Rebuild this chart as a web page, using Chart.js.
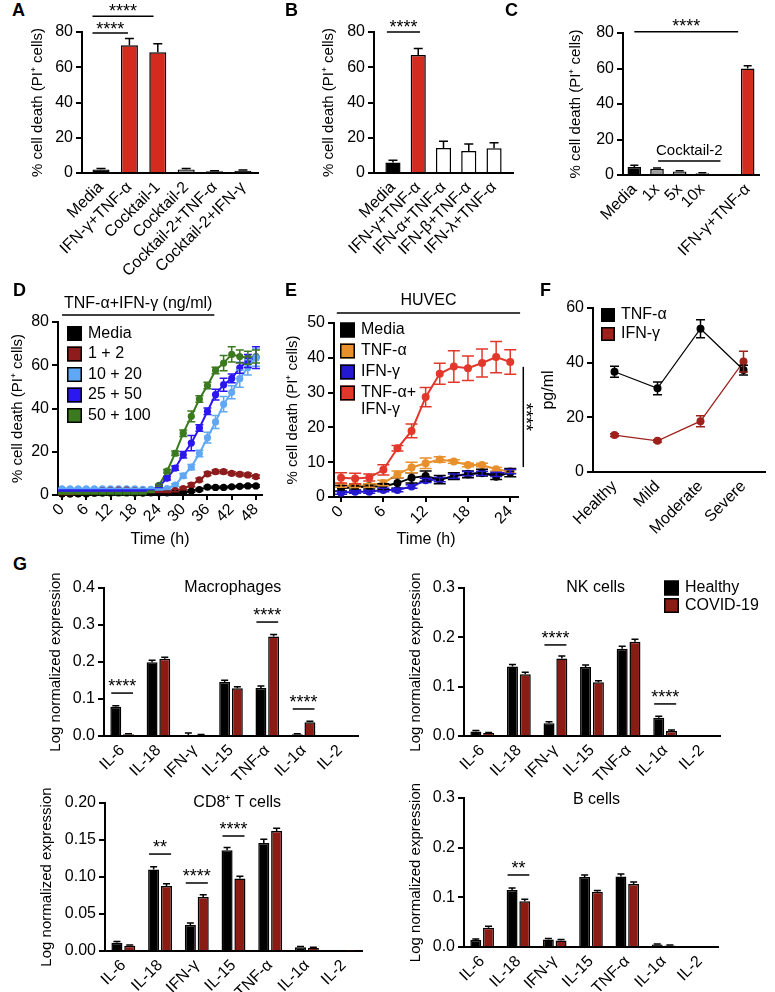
<!DOCTYPE html>
<html>
<head>
<meta charset="utf-8">
<script src="https://cdn.jsdelivr.net/npm/chart.js@4.4.0/dist/chart.umd.min.js"></script>
<style>
  body { margin: 0; background: #fff; }
  #page { position: relative; width: 775px; height: 992px; overflow: hidden; font-family: 'Liberation Sans', Arial, sans-serif; }
  canvas { position: absolute; }
  .tag { position: absolute; font-weight: bold; font-size: 18px; line-height: 1; z-index: 5; }
</style>
</head>
<body>
<div id="page">
  <canvas id="chA"></canvas>
  <canvas id="chB"></canvas>
  <canvas id="chC"></canvas>
  <canvas id="chD"></canvas>
  <canvas id="chE"></canvas>
  <canvas id="chF"></canvas>
  <canvas id="chMac"></canvas>
  <canvas id="chNK"></canvas>
  <canvas id="chCD8"></canvas>
  <canvas id="chBc"></canvas>
  <div class="tag" style="left:12px;top:1px">A</div>
  <div class="tag" style="left:285px;top:1px">B</div>
  <div class="tag" style="left:505px;top:1px">C</div>
  <div class="tag" style="left:13px;top:281px">D</div>
  <div class="tag" style="left:285px;top:281px">E</div>
  <div class="tag" style="left:540px;top:281px">F</div>
  <div class="tag" style="left:13px;top:555px">G</div>
</div>
<script>
// ---- data ----
const aCats = ['Media', 'IFN-γ+TNF-α', 'Cocktail-1', 'Cocktail-2', 'Cocktail-2+TNF-α', 'Cocktail-2+IFN-γ'];
const aDeath = [2.0, 72.5, 68.5, 2.0, 1.0, 1.3];
const aErr = [0.5, 3.8, 4.8, 0.6, 0.3, 0.4];

const bCats = ['Media', 'IFN-γ+TNF-α', 'IFN-α+TNF-α', 'IFN-β+TNF-α', 'IFN-λ+TNF-α'];
const bDeath = [6.0, 67.0, 14.2, 12.5, 14.0];
const bErr = [1.2, 3.7, 3.8, 4.0, 3.2];

const cCats = ['Media', '1x', '5x', '10x', '', 'IFN-γ+TNF-α'];
const cDeath = [4.5, 3.5, 2.0, 1.0, null, 60.0];
const cErr = [1.0, 0.5, 0.4, 0.3, null, 1.5];

const dSeries = ['Media', '1 + 2', '10 + 20', '25 + 50', '50 + 100'];
const dTime = [0, 2, 4, 6, 8, 10, 12, 14, 16, 18, 20, 22, 24, 26, 28, 30, 32, 34, 36, 38, 40, 42, 44, 46, 48];
const dTicks = [0, 6, 12, 18, 24, 30, 36, 42, 48];
const dMedia = [0.5, 0.5, 0.5, 0.5, 0.8, 1.0, 1.0, 1.2, 1.2, 1.0, 1.0, 1.0, 1.0, 1.0, 1.2, 1.2, 1.8, 2.5, 3.6, 3.5, 3.5, 3.8, 4.0, 4.2, 4.2];
const d1 = [0.5, 0.5, 0.8, 1.0, 1.5, 2.0, 2.2, 2.3, 2.3, 2.0, 1.8, 1.5, 1.5, 1.5, 2.0, 3.0, 4.6, 7.0, 9.8, 10.8, 10.8, 10.0, 9.6, 9.3, 8.5];
const d10 = [2.8, 2.8, 2.8, 2.8, 2.8, 2.8, 2.8, 2.8, 2.8, 2.8, 2.6, 2.6, 2.6, 3.0, 4.6, 8.9, 12.9, 19.2, 26.5, 33.8, 42.0, 47.5, 53.8, 59.0, 63.5];
const d25 = [2.0, 2.0, 2.0, 2.0, 2.0, 2.0, 2.0, 2.0, 2.0, 2.0, 2.0, 2.0, 4.0, 7.7, 12.4, 18.6, 24.0, 31.0, 38.7, 46.4, 51.0, 53.9, 58.8, 62.0, 63.5];
const d50 = [0.8, 0.8, 0.8, 0.8, 0.8, 0.8, 0.8, 0.8, 0.8, 0.8, 0.8, 1.5, 4.5, 11.0, 19.3, 28.6, 36.4, 44.4, 50.6, 57.6, 61.0, 65.0, 64.0, 63.5, 64.0];
const dMediaErr = [0.3, 0.3, 0.3, 0.3, 0.3, 0.3, 0.3, 0.3, 0.3, 0.3, 0.3, 0.3, 0.3, 0.3, 0.3, 0.4, 0.5, 0.5, 0.5, 0.5, 0.5, 0.5, 0.5, 0.5, 0.5];
const d1Err = [0.3, 0.3, 0.3, 0.3, 0.4, 0.5, 0.5, 0.5, 0.5, 0.5, 0.4, 0.4, 0.4, 0.4, 0.5, 0.6, 0.8, 0.8, 0.8, 0.8, 0.8, 0.8, 0.8, 0.8, 0.8];
const d10Err = [0.3, 0.3, 0.3, 0.3, 0.3, 0.3, 0.3, 0.3, 0.3, 0.3, 0.3, 0.3, 0.3, 0.4, 0.6, 1.0, 1.2, 1.5, 2.5, 3.0, 3.5, 3.0, 4.0, 3.5, 4.0];
const d25Err = [0.3, 0.3, 0.3, 0.3, 0.3, 0.3, 0.3, 0.3, 0.3, 0.3, 0.3, 0.3, 0.5, 0.8, 1.0, 1.5, 3.5, 1.5, 1.5, 2.5, 3.0, 2.0, 2.5, 3.0, 5.0];
const d50Err = [0.3, 0.3, 0.3, 0.3, 0.3, 0.3, 0.3, 0.3, 0.3, 0.3, 0.3, 0.3, 0.5, 0.8, 1.0, 1.5, 2.5, 1.5, 1.5, 1.5, 3.5, 3.5, 3.0, 3.0, 3.0];

const eSeries = ['Media', 'TNF-α', 'IFN-γ', 'TNF-α+IFN-γ'];
const eTime = [0, 2, 4, 6, 8, 10, 12, 14, 16, 18, 20, 22, 24];
const eTicks = [0, 6, 12, 18, 24];
const eMedia = [2.5, 2.8, 3.0, 3.0, 4.0, 5.5, 6.0, 5.0, 6.0, 6.5, 7.0, 5.8, 7.0];
const eTNF = [3.3, 3.2, 3.3, 4.0, 6.5, 8.5, 9.7, 10.8, 10.2, 9.2, 9.2, 8.0, 7.3];
const eIFN = [1.2, 1.5, 1.5, 2.0, 2.0, 3.0, 4.8, 5.0, 6.0, 6.7, 6.8, 6.5, 7.3];
const eBoth = [5.5, 5.3, 5.6, 7.8, 14.0, 19.0, 28.7, 35.4, 37.5, 37.0, 38.5, 40.2, 38.8];
const eMediaErr = [0.8, 0.8, 0.7, 0.8, 1.5, 1.5, 1.5, 1.2, 1.0, 1.0, 1.0, 0.8, 1.2];
const eTNFErr = [0.5, 0.5, 0.5, 0.8, 1.0, 1.5, 1.5, 0.8, 0.5, 0.5, 0.5, 0.5, 0.5];
const eIFNErr = [0.4, 0.4, 0.4, 0.5, 0.5, 0.5, 0.6, 0.6, 0.6, 0.6, 0.6, 0.6, 0.6];
const eBothErr = [1.5, 1.5, 1.0, 1.5, 0.8, 2.0, 2.8, 3.0, 4.5, 3.5, 4.0, 4.5, 3.5];

const fCats = ['Healthy', 'Mild', 'Moderate', 'Severe'];
const fTNF = [36.7, 30.6, 52.4, 37.3];
const fTNFErr = [2.0, 2.3, 3.3, 1.8];
const fIFN = [13.5, 11.4, 18.6, 40.4];
const fIFNErr = [0.5, 0.4, 2.0, 3.8];

const gCats = ['IL-6', 'IL-18', 'IFN-γ', 'IL-15', 'TNF-α', 'IL-1α', 'IL-2'];
const gGroups = ['Healthy', 'COVID-19'];
const macHealthy = [0.079, 0.199, 0.002, 0.146, 0.130, 0.005, 0];
const macCovid = [0.005, 0.209, 0.002, 0.129, 0.269, 0.037, 0];
const macHealthyErr = [0.003, 0.006, 0.006, 0.005, 0.005, 0.001, 0];
const macCovidErr = [0.001, 0.004, 0.002, 0.004, 0.005, 0.003, 0];
const nkHealthy = [0.009, 0.141, 0.026, 0.140, 0.177, 0.037, 0];
const nkCovid = [0.006, 0.125, 0.157, 0.109, 0.191, 0.010, 0];
const nkHealthyErr = [0.002, 0.004, 0.003, 0.004, 0.005, 0.003, 0];
const nkCovidErr = [0.001, 0.004, 0.005, 0.003, 0.005, 0.002, 0];
const cd8Healthy = [0.011, 0.110, 0.035, 0.136, 0.146, 0.005, 0];
const cd8Covid = [0.007, 0.088, 0.073, 0.098, 0.162, 0.004, 0.0005];
const cd8HealthyErr = [0.002, 0.004, 0.003, 0.004, 0.005, 0.001, 0];
const cd8CovidErr = [0.001, 0.003, 0.003, 0.003, 0.004, 0.001, 0];
const bcHealthy = [0.014, 0.115, 0.015, 0.141, 0.142, 0.005, 0];
const bcCovid = [0.039, 0.092, 0.013, 0.111, 0.127, 0.003, 0];
const bcHealthyErr = [0.002, 0.004, 0.002, 0.004, 0.005, 0.001, 0];
const bcCovidErr = [0.003, 0.004, 0.002, 0.003, 0.004, 0.001, 0];

// ---- look ----
const FONT = "'Liberation Sans', Arial, sans-serif";
const RED = '#D42B1F';
const DARKRED = '#8A1C14';
const GRAY = '#9C9C9C';

Chart.defaults.font.family = FONT;
Chart.defaults.color = '#000';
Chart.defaults.animation = false;
Chart.defaults.plugins.legend.display = false;
Chart.defaults.plugins.tooltip.enabled = false;

// annotations per canvas (sig bars, headers, legends)
const notes = {};

function errorBars(chart) {
  const ctx = chart.ctx, ys = chart.scales.y;
  chart.data.datasets.forEach((ds, i) => {
    if (!ds.errors) return;
    const meta = chart.getDatasetMeta(i);
    ctx.save();
    ctx.strokeStyle = ds.errorColor || ds.borderColor;
    ctx.lineWidth = ds.errorWidth || 1.5;
    meta.data.forEach((el, j) => {
      const e = ds.errors[j];
      const raw = ds.data[j];
      const v = raw !== null && typeof raw === 'object' ? raw.y : raw;
      if (!e || v == null) return;
      const w = (ds.capWidth || 8) / 2;
      const yT = ys.getPixelForValue(v + e);
      const yB = ds.errDown ? ys.getPixelForValue(v - e) : ys.getPixelForValue(v);
      ctx.beginPath();
      ctx.moveTo(el.x, yB); ctx.lineTo(el.x, yT);
      ctx.moveTo(el.x - w, yT); ctx.lineTo(el.x + w, yT);
      if (ds.errDown) { ctx.moveTo(el.x - w, yB); ctx.lineTo(el.x + w, yB); }
      ctx.stroke();
    });
    ctx.restore();
  });
}

function drawNotes(chart) {
  const n = notes[chart.canvas.id];
  if (!n) return;
  const ctx = chart.ctx, xs = chart.scales.x, ys = chart.scales.y, area = chart.chartArea;
  ctx.save();
  ctx.fillStyle = '#000';
  ctx.strokeStyle = '#000';
  (n.lines || []).forEach(s => {
    const x0 = xs.getPixelForValue(s.x0), x1 = xs.getPixelForValue(s.x1), y = ys.getPixelForValue(s.y);
    ctx.lineWidth = s.width || 1.5;
    ctx.beginPath(); ctx.moveTo(x0, y); ctx.lineTo(x1, y); ctx.stroke();
    if (s.text) {
      ctx.font = (s.size || 18) + 'px ' + FONT;
      ctx.textAlign = 'center';
      ctx.textBaseline = 'alphabetic';
      ctx.fillText(s.text, (x0 + x1) / 2, y + (s.dy === undefined ? 0 : s.dy));
    }
  });
  (n.vlines || []).forEach(s => {
    const x = xs.getPixelForValue(s.x), y0 = ys.getPixelForValue(s.y0), y1 = ys.getPixelForValue(s.y1);
    ctx.lineWidth = 1.5;
    ctx.beginPath(); ctx.moveTo(x, y0); ctx.lineTo(x, y1); ctx.stroke();
    ctx.save();
    ctx.translate(x + (s.dx || -3), (y0 + y1) / 2);
    ctx.rotate(Math.PI / 2);
    ctx.font = '18px ' + FONT;
    ctx.textAlign = 'center';
    ctx.textBaseline = 'alphabetic';
    ctx.fillText(s.text, 0, 0);
    ctx.restore();
  });
  (n.texts || []).forEach(t => {
    ctx.font = (t.size || 16) + 'px ' + FONT;
    ctx.textAlign = 'center';
    ctx.textBaseline = 'middle';
    ctx.fillText(t.text, xs.getPixelForValue(t.x), ys.getPixelForValue(t.y));
  });
  if (n.legend) {
    const L = n.legend, b = L.box;
    ctx.font = (L.size || 16) + 'px ' + FONT;
    ctx.textAlign = 'left';
    ctx.textBaseline = 'middle';
    let y = area.top + L.dy;
    const x = area.left + L.dx;
    chart.data.datasets.forEach(ds => {
      const lines = [].concat(ds.legendLines || ds.label);
      ctx.fillStyle = ds.legendColor || ds.backgroundColor;
      ctx.fillRect(x, y - b / 2, b, b);
      ctx.lineWidth = 1.5;
      ctx.strokeStyle = '#000';
      ctx.strokeRect(x + 0.75, y - b / 2 + 0.75, b - 1.5, b - 1.5);
      ctx.fillStyle = '#000';
      lines.forEach((s, k) => ctx.fillText(s, x + b + 6, y + k * 17));
      y += L.step + (lines.length - 1) * 17;
    });
  }
  ctx.restore();
}

Chart.register({
  id: 'extras',
  afterDatasetsDraw(chart) { errorBars(chart); },
  afterDraw(chart) { drawNotes(chart); }
});

// place a canvas so that its plot area lands on plot = [left, top, right, bottom]
function mount(id, plot, m) {
  const c = document.getElementById(id);
  const w = plot[2] - plot[0] + m[0] + m[2];
  const h = plot[3] - plot[1] + m[1] + m[3];
  c.width = w; c.height = h;
  c.style.width = w + 'px'; c.style.height = h + 'px';
  c.style.left = (plot[0] - m[0]) + 'px';
  c.style.top = (plot[1] - m[1]) + 'px';
  return { left: 0, top: m[1], right: m[2], bottom: 0 };
}

function yAxis(max, step, title, width, dec, titleSize) {
  return {
    min: 0, max: max,
    ticks: { stepSize: step, font: { size: 16 }, padding: 3, color: '#000',
      callback: v => dec === undefined ? v : v.toFixed(dec) },
    grid: { drawOnChartArea: false, color: '#000', lineWidth: 2, tickLength: 6 },
    border: { color: '#000', width: 2 },
    title: { display: true, text: title, font: { size: titleSize || 15 }, padding: 0, color: '#000' },
    afterFit: s => { s.width = width; s.paddingTop = 0; s.paddingBottom = 0; }
  };
}

function xCat(height, extra) {
  return Object.assign({
    ticks: { maxRotation: 45, minRotation: 45, autoSkip: false, font: { size: 16 }, padding: -3, color: '#000' },
    grid: { display: false },
    border: { color: '#000', width: 2 },
    afterFit: s => { s.height = height; s.paddingLeft = 0; s.paddingRight = 0; }
  }, extra || {});
}

function xTime(height, min, max, ticks) {
  return {
    type: 'linear', min: min, max: max,
    afterBuildTicks: s => { s.ticks = ticks.map(v => ({ value: v })); },
    ticks: { maxRotation: 45, minRotation: 45, autoSkip: false, font: { size: 16 }, padding: 0, color: '#000' },
    grid: { drawOnChartArea: false, color: '#000', lineWidth: 2, tickLength: 5 },
    border: { color: '#000', width: 2 },
    title: { display: true, text: 'Time (h)', font: { size: 16 }, padding: 0, color: '#000' },
    afterFit: s => { s.height = height; s.paddingLeft = 0; s.paddingRight = 0; }
  };
}

// uneven end gaps on a category axis, in category units
function catPad(l, r) {
  return s => { const n = s.ticks.length; s._startValue = -l; s._valueRange = n - 1 + l + r; };
}

function points(xs, ys) { return xs.map((x, i) => ({ x: x, y: ys[i] })); }

// ---- A ----
notes.chA = { lines: [
  { x0: -0.3, x1: 1.85, y: 89, text: '****', dy: 1 },
  { x0: -0.3, x1: 0.95, y: 79.4, text: '****', dy: 2 }
] };
new Chart('chA', {
  type: 'bar',
  data: { labels: aCats, datasets: [{ data: aDeath, errors: aErr, errorColor: '#000', capWidth: 9,
    backgroundColor: ['#000', RED, RED, GRAY, '#000', '#000'], borderColor: '#000', borderWidth: 1.5,
    barPercentage: 0.6, categoryPercentage: 1 }] },
  options: { responsive: false, layout: { padding: mount('chA', [82, 32, 258, 173], [53, 32, 8, 112]) },
    scales: { x: xCat(112, { afterBuildTicks: catPad(0.67, 0.53) }), y: yAxis(80, 20, '% cell death (PI⁺ cells)', 53) } }
});

// ---- B ----
notes.chB = { lines: [{ x0: -0.24, x1: 1.07, y: 80, text: '****', dy: 1 }] };
new Chart('chB', {
  type: 'bar',
  data: { labels: bCats, datasets: [{ data: bDeath, errors: bErr, errorColor: '#000', capWidth: 9,
    backgroundColor: ['#000', RED, '#fff', '#fff', '#fff'], borderColor: '#000', borderWidth: 1.5,
    barPercentage: 0.6, categoryPercentage: 1 }] },
  options: { responsive: false, layout: { padding: mount('chB', [374, 32, 513, 173], [54, 32, 8, 100]) },
    scales: { x: xCat(100, { afterBuildTicks: catPad(0.75, 0.75) }), y: yAxis(80, 20, '% cell death (PI⁺ cells)', 54) } }
});

// ---- C ----
notes.chC = { lines: [
  { x0: 0, x1: 4.58, y: 80.7, text: '****', dy: 0 },
  { x0: 1.05, x1: 3.8, y: 7.9, text: 'Cocktail-2', size: 15, dy: -6 }
] };
new Chart('chC', {
  type: 'bar',
  data: { labels: cCats, datasets: [{ data: cDeath, errors: cErr, errorColor: '#000', capWidth: 8,
    backgroundColor: ['#000', GRAY, GRAY, GRAY, GRAY, RED], borderColor: '#000', borderWidth: 1.5,
    barPercentage: 0.6, categoryPercentage: 1 }] },
  options: { responsive: false, layout: { padding: mount('chC', [623, 33, 759, 175], [56, 33, 12, 95]) },
    scales: { x: xCat(95), y: yAxis(80, 20, '% cell death (PI⁺ cells)', 56) } }
});

// ---- D ----
const dColors = ['#000000', '#8E1C1C', '#5FA8F5', '#2B17F0', '#3B7A1E'];
const dVals = [dMedia, d1, d10, d25, d50];
const dErrs = [dMediaErr, d1Err, d10Err, d25Err, d50Err];
notes.chD = {
  lines: [{ x0: 0, x1: 37.7, y: 83.2, text: 'TNF-α+IFN-γ (ng/ml)', size: 16, dy: -7 }],
  legend: { dx: 9, dy: 11.5, step: 20.5, box: 15 }
};
new Chart('chD', {
  type: 'line',
  data: { datasets: dSeries.map((name, i) => ({
    label: name, data: points(dTime, dVals[i]), errors: dErrs[i], errDown: true, capWidth: 8,
    borderColor: dColors[i], backgroundColor: dColors[i], pointBackgroundColor: dColors[i],
    borderWidth: 2, pointRadius: 3.6, pointBorderWidth: 0, clip: false })) },
  options: { responsive: false, layout: { padding: mount('chD', [58, 322, 262, 495], [49, 40, 8, 54]) },
    scales: { x: xTime(54, -1, 49.5, dTicks), y: yAxis(80, 20, '% cell death (PI⁺ cells)', 49) } }
});

// ---- E ----
const eColors = ['#000000', '#E8902C', '#2419D0', '#E2382B'];
const eVals = [eMedia, eTNF, eIFN, eBoth];
const eErrs = [eMediaErr, eTNFErr, eIFNErr, eBothErr];
notes.chE = {
  lines: [{ x0: -0.6, x1: 25.4, y: 52.9, text: 'HUVEC', size: 16, dy: -8 }],
  vlines: [{ x: 25.85, y0: 8.6, y1: 37.4, text: '****', dx: -3 }],
  legend: { dx: 6, dy: 7, step: 21, box: 15 }
};
new Chart('chE', {
  type: 'line',
  data: { datasets: eSeries.map((name, i) => ({
    label: name, legendLines: i === 3 ? ['TNF-α+', 'IFN-γ'] : name,
    data: points(eTime, eVals[i]), errors: eErrs[i], errDown: true, capWidth: 12,
    borderColor: eColors[i], backgroundColor: eColors[i], pointBackgroundColor: eColors[i],
    borderWidth: 2, pointRadius: 4, pointBorderWidth: 0, clip: false })) },
  options: { responsive: false, layout: { padding: mount('chE', [334, 323, 518, 497], [50, 43, 24, 52]) },
    scales: { x: xTime(52, -1, 25.1, eTicks), y: yAxis(50, 10, '% cell death (PI⁺ cells)', 50) } }
});

// ---- F ----
notes.chF = { legend: { dx: 8, dy: 7, step: 19, box: 14 } };
new Chart('chF', {
  type: 'line',
  data: { labels: fCats, datasets: [
    { label: 'TNF-α', data: fTNF, errors: fTNFErr, errDown: true, capWidth: 9,
      borderColor: '#000', backgroundColor: '#000', pointBackgroundColor: '#000',
      borderWidth: 1.2, pointRadius: 4, pointBorderWidth: 0, clip: false },
    { label: 'IFN-γ', data: fIFN, errors: fIFNErr, errDown: true, capWidth: 9,
      borderColor: '#9E211B', backgroundColor: '#9E211B', pointBackgroundColor: '#9E211B',
      borderWidth: 1.2, pointRadius: 4, pointBorderWidth: 0, clip: false }
  ] },
  options: { responsive: false, layout: { padding: mount('chF', [593, 308, 765, 472], [54, 10, 8, 64]) },
    scales: { x: xCat(64, { offset: true }), y: yAxis(60, 20, 'pg/ml', 54, undefined, 16) } }
});

// ---- G ----
function gChart(id, plot, m, healthy, covid, hErr, cErr, max, step, dec) {
  return new Chart(id, {
    type: 'bar',
    data: { labels: gCats, datasets: [
      { label: gGroups[0], data: healthy, errors: hErr, errorColor: '#000', capWidth: 7,
        backgroundColor: '#000', borderColor: '#000', borderWidth: 1.5, barPercentage: 0.86, categoryPercentage: 0.7 },
      { label: gGroups[1], data: covid, errors: cErr, errorColor: '#000', capWidth: 7,
        backgroundColor: DARKRED, borderColor: '#000', borderWidth: 1.5, barPercentage: 0.86, categoryPercentage: 0.7 }
    ] },
    options: { responsive: false, layout: { padding: mount(id, plot, m) },
      scales: { x: xCat(m[3]), y: yAxis(max, step, 'Log normalized expression', m[0], dec) } }
  });
}

notes.chMac = {
  lines: [
    { x0: -0.3, x1: 0.3, y: 0.116, text: '****', dy: -1 },
    { x0: 3.7, x1: 4.3, y: 0.308, text: '****', dy: -1 },
    { x0: 4.7, x1: 5.3, y: 0.073, text: '****', dy: -1 }
  ],
  texts: [{ x: 3.05, y: 0.4, text: 'Macrophages' }]
};
gChart('chMac', [104, 588, 358, 736], [57, 25, 10, 56], macHealthy, macCovid, macHealthyErr, macCovidErr, 0.4, 0.1, 1);

notes.chNK = {
  lines: [
    { x0: 1.7, x1: 2.3, y: 0.1846, text: '****', dy: -1 },
    { x0: 4.7, x1: 5.3, y: 0.065, text: '****', dy: -1 }
  ],
  texts: [{ x: 3.1, y: 0.3, text: 'NK cells' }],
  legend: { dx: 200, dy: 0, step: 17.5, box: 15 }
};
gChart('chNK', [464, 588, 720, 736], [57, 25, 52, 56], nkHealthy, nkCovid, nkHealthyErr, nkCovidErr, 0.3, 0.1, 1);

notes.chCD8 = {
  lines: [
    { x0: 0.7, x1: 1.3, y: 0.131, text: '**', dy: -1 },
    { x0: 1.7, x1: 2.3, y: 0.0919, text: '****', dy: -1 },
    { x0: 2.7, x1: 3.3, y: 0.1554, text: '****', dy: -1 }
  ],
  texts: [{ x: 3.1, y: 0.2, text: 'CD8⁺ T cells' }]
};
gChart('chCD8', [105, 803, 362, 951], [67, 25, 10, 41], cd8Healthy, cd8Covid, cd8HealthyErr, cd8CovidErr, 0.2, 0.05, 2);

notes.chBc = {
  lines: [{ x0: 0.7, x1: 1.3, y: 0.145, text: '**', dy: -1 }],
  texts: [{ x: 3.15, y: 0.297, text: 'B cells' }]
};
gChart('chBc', [464, 798, 718, 947], [57, 25, 10, 45], bcHealthy, bcCovid, bcHealthyErr, bcCovidErr, 0.3, 0.1, 1);
</script>
</body>
</html>
